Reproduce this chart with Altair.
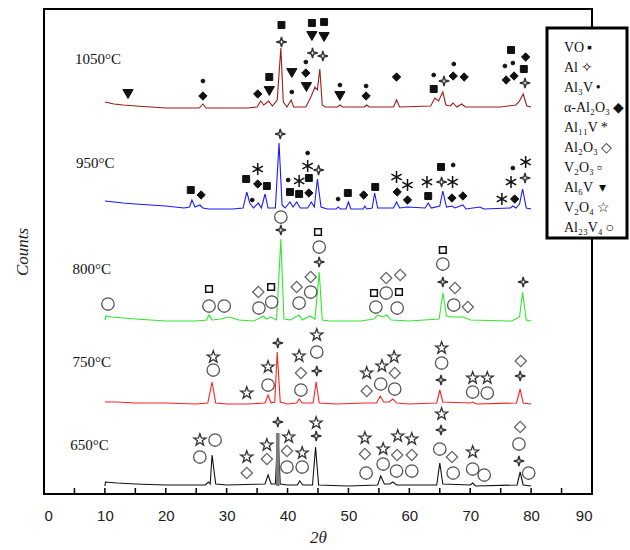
import altair as alt
import pandas as pd

# ---- diffraction traces: (2θ, counts) per annealing temperature ----
trace_1050 = [(10.0, 392), (11.5, 390), (13, 389), (15, 388), (17.5, 387), (20, 386), (23, 386),
              (25.5, 386), (26.1, 390), (26.6, 386), (30, 386), (33.5, 386), (35.0, 387), (35.6, 393),
              (36.1, 389), (36.9, 393), (37.5, 388), (38.3, 394), (38.9, 446), (39.3, 392), (39.9, 387),
              (40.6, 394), (41.0, 387), (43.0, 387), (43.9, 398), (44.5, 407), (44.9, 404), (45.3, 425),
              (45.7, 389), (46.2, 387), (48.2, 387), (48.6, 389), (49.0, 387), (52.6, 387), (53.0, 389),
              (53.4, 387), (57.4, 387), (57.9, 394), (58.4, 387), (63.5, 388), (64.2, 396), (64.8, 393),
              (65.5, 402), (66.0, 389), (66.7, 388), (67.2, 391), (67.8, 387), (68.6, 390), (69.2, 387),
              (75, 387), (77.5, 389), (78.0, 392), (78.7, 400), (79.3, 388), (80.0, 387)]
trace_950 = [(10.0, 293), (11.5, 292), (13, 291), (15, 290), (17.5, 289), (20, 288), (23, 286),
             (23.9, 287), (24.3, 294), (24.8, 287), (25.6, 289), (26.1, 286), (27, 285), (31, 285),
             (32.7, 286), (33.3, 302), (33.8, 291), (34.4, 286), (35.2, 291), (35.7, 286), (36.3, 300),
             (36.8, 286), (38.0, 286), (38.6, 351), (39.1, 289), (39.6, 286), (40.4, 292), (40.9, 287),
             (41.5, 292), (42.1, 286), (43.3, 286), (43.9, 292), (44.4, 287), (44.9, 315), (45.5, 287),
             (46.5, 285), (48.0, 285), (48.3, 287), (48.7, 285), (49.6, 285), (50.0, 292), (50.4, 285),
             (52.4, 285), (52.7, 288), (53.0, 285), (53.9, 286), (54.3, 301), (54.8, 286), (57.4, 286),
             (57.9, 292), (58.4, 286), (59.6, 287), (62.6, 286), (63.1, 291), (63.6, 286), (65.0, 288),
             (65.5, 303), (66.1, 287), (67.0, 288), (67.5, 286), (68.8, 289), (69.3, 285), (71.6, 287),
             (72.2, 285), (76.6, 286), (77.0, 288), (77.5, 286), (78.1, 290), (78.6, 305), (79.2, 286),
             (80.0, 285)]
trace_800 = [(10.0, 174), (10.2, 178), (11, 177), (13, 176), (15, 175), (17.5, 174), (20, 173),
             (25, 173), (26.7, 174), (27.1, 179), (27.6, 174), (29, 175), (30.5, 177), (32, 174),
             (34.4, 173), (35.5, 176), (36.0, 178), (36.5, 175), (37.2, 177), (38.2, 174), (38.9, 255),
             (39.4, 175), (40.5, 174), (41.9, 179), (42.4, 174), (43.7, 178), (44.5, 175), (45.2, 222),
             (45.7, 174), (47, 173), (52, 173), (54.2, 175), (54.8, 179), (55.6, 177), (56.3, 179),
             (57, 174), (60, 173), (64.9, 175), (65.5, 201), (66.1, 178), (67, 177), (68.8, 177),
             (70, 174), (76.8, 173), (78.1, 177), (78.6, 202), (79.2, 174), (80.0, 173)]
trace_750 = [(10.0, 92), (12, 92), (15, 91), (20, 91), (25, 90), (26.9, 91), (27.6, 112), (28.2, 91),
             (30, 90), (33.5, 90), (36.3, 91), (36.8, 99), (37.3, 91), (37.9, 92), (38.3, 142),
             (38.8, 92), (40, 90), (41.5, 91), (41.9, 95), (42.4, 91), (44.2, 91), (44.7, 112),
             (45.2, 91), (48, 90), (52.7, 91), (54.6, 91), (55.2, 98), (55.8, 92), (56.7, 92),
             (57.3, 95), (57.9, 91), (60, 90), (64.5, 91), (65.0, 104), (65.5, 92), (70.0, 91),
             (70.4, 92), (71, 90), (77.6, 91), (78.2, 105), (78.7, 91), (80.0, 90)]
trace_650 = [(10.0, 8), (10.1, 12), (12, 11), (15, 10), (20, 9), (26.5, 9), (27.0, 12), (27.3, 10),
             (27.6, 39), (28.2, 10), (30, 9), (36.3, 10), (36.8, 19), (37.3, 10), (38.0, 10),
             (38.4, 61), (38.8, 10), (40, 9), (41.6, 9), (42.0, 13), (42.5, 9), (44.1, 9), (44.6, 47),
             (45.1, 9), (50, 8), (54.8, 9), (55.3, 18), (55.9, 10), (56.8, 10), (57.3, 12), (57.9, 9),
             (64.5, 9), (65.0, 31), (65.5, 10), (70.0, 9), (70.4, 11), (70.9, 8), (77.7, 9),
             (78.2, 22), (78.7, 9), (80, 8)]

series_names = ["1050°C", "950°C", "800°C", "750°C", "650°C"]
series_traces = [trace_1050, trace_950, trace_800, trace_750, trace_650]
series_colors = ["#9a1c1c", "#1a1af5", "#2fe82f", "#ff2020", "#111111"]

# where each temperature label sits (2θ, counts)
label_theta = [5.1, 5.25, 4.7, 4.7, 4.3]
label_counts = [435, 331, 225, 132, 49]

# ---- phase identification markers: (2θ, counts) ----
phases = ["VO", "Al", "Al₃V", "α-Al₂O₃", "Al₁₁V", "Al₂O₃", "V₂O₃", "Al₆V", "V₂O₄", "Al₂₃V₄"]
phase_glyphs = ["▪", "✧", "•", "◆", "*", "◇", "▫", " ▾", "☆", "○"]

marks_VO = [(37.0, 417), (39.0, 469), (44.0, 471), (46.0, 472), (64.0, 405), (76.7, 444), (78.8, 425),
            (24.1, 304), (33.2, 315), (36.6, 308), (40.4, 302), (41.9, 300), (43.5, 316), (49.9, 301),
            (54.4, 307), (63.1, 298), (65.2, 327)]
marks_Al = [(39.0, 452), (44.1, 441), (45.8, 438), (65.7, 413), (79.0, 411),
            (38.8, 360), (45.1, 324), (65.3, 312), (79.0, 316),
            (38.9, 264), (45.2, 232), (65.5, 212), (78.7, 212),
            (38.4, 151), (44.8, 123), (65.2, 114), (78.2, 118),
            (38.4, 72), (44.7, 58), (65.2, 64), (78.0, 33)]
marks_Al3V = [(26.1, 413), (40.7, 402), (43.0, 432), (48.6, 409), (52.9, 408), (64.0, 419), (67.3, 430),
              (75.7, 428), (77.0, 431),
              (34.2, 294), (40.1, 314), (43.3, 341), (48.3, 295), (67.2, 329), (77.0, 326)]
marks_aAl2O3 = [(26.1, 398), (35.1, 400), (43.0, 421), (52.9, 398), (57.9, 417), (67.2, 418), (69.0, 417),
                (75.9, 414), (77.2, 418), (79.1, 437),
                (25.8, 299), (35.1, 310), (43.5, 301), (52.5, 299), (58.0, 302), (59.7, 294), (67.0, 296),
                (68.8, 298), (77.3, 295)]
marks_Al11V = [(35.1, 325), (41.9, 313), (43.3, 328), (57.9, 317), (59.7, 309), (62.9, 312), (67.1, 312),
               (75.2, 295), (76.7, 312), (79.1, 332)]
marks_Al2O3 = [(35.2, 202), (41.5, 207), (43.8, 217), (56.2, 216), (58.5, 219), (67.5, 206), (69.6, 187),
               (42.2, 121), (53.0, 103), (57.6, 121), (78.3, 133),
               (33.3, 21), (36.6, 35), (39.9, 43), (52.7, 40), (58.0, 39), (60.4, 39), (67.0, 37), (78.2, 67)]
marks_V2O3 = [(27.1, 205), (37.3, 207), (45.0, 262), (54.2, 201), (58.3, 202), (65.5, 244)]
marks_Al6V = [(13.8, 400), (37.0, 403), (40.7, 421), (43.1, 407), (44.0, 458), (46.0, 457), (48.6, 398)]
marks_V2O4 = [(27.8, 137), (33.3, 101), (36.8, 127), (41.9, 138), (44.8, 159), (53.0, 121), (55.5, 128),
              (57.5, 137), (65.3, 146), (70.4, 116), (72.8, 116),
              (25.6, 54), (33.3, 37), (36.6, 49), (40.2, 57), (42.4, 41), (44.7, 71), (52.7, 56), (55.7, 45),
              (58.1, 58), (60.4, 55), (65.3, 80), (70.4, 42)]
marks_Al23V4 = [(10.5, 190), (27.1, 188), (29.6, 188), (35.3, 186), (37.4, 192), (38.9, 277), (41.9, 191),
                (43.8, 202), (45.2, 247), (54.5, 187), (56.2, 201), (58.0, 186), (65.5, 230), (67.3, 189),
                (27.8, 124), (36.8, 109), (42.2, 104), (44.8, 142), (55.3, 110), (57.6, 105), (65.3, 131),
                (70.4, 102), (72.8, 101),
                (25.6, 37), (28.1, 54), (39.9, 27), (42.4, 27), (52.9, 21), (55.7, 30), (57.9, 23), (60.4, 23),
                (65.0, 45), (67.2, 21), (70.4, 25), (72.3, 19), (78.0, 50), (79.6, 21)]
phase_marks = [marks_VO, marks_Al, marks_Al3V, marks_aAl2O3, marks_Al11V, marks_Al2O3,
               marks_V2O3, marks_Al6V, marks_V2O4, marks_Al23V4]

x_ticks = list(range(0, 91, 10))
minor_ticks = list(range(0, 91, 5))

# ---- symbol styling per phase ----
STAR4 = "M0,-1L0.2,-0.2L1,0L0.2,0.2L0,1L-0.2,0.2L-1,0L-0.2,-0.2Z"
ASTERISK = "M0,-1L0,1M-0.87,-0.5L0.87,0.5M-0.87,0.5L0.87,-0.5"
STAR5 = ("M0,-1L0.235,-0.324L0.951,-0.309L0.380,0.124L0.588,0.809L0,0.4L-0.588,0.809"
         "L-0.380,0.124L-0.951,-0.309L-0.235,-0.324Z")
phase_style = {
    "VO":      dict(shape="square", size=48, fill="#111111", stroke="#111111", sw=1.0),
    "Al":      dict(shape=STAR4, size=105, fill="white", stroke="#333333", sw=1.4),
    "Al₃V":    dict(shape="circle", size=14, fill="#111111", stroke="#111111", sw=1.0),
    "α-Al₂O₃": dict(shape="diamond", size=70, fill="#111111", stroke="#111111", sw=1.0),
    "Al₁₁V":   dict(shape=ASTERISK, size=140, fill="transparent", stroke="#111111", sw=1.5),
    "Al₂O₃":   dict(shape="diamond", size=125, fill="transparent", stroke="#666666", sw=1.3),
    "V₂O₃":    dict(shape="square", size=45, fill="transparent", stroke="#111111", sw=1.5),
    "Al₆V":    dict(shape="triangle-down", size=105, fill="#111111", stroke="#111111", sw=1.0),
    "V₂O₄":    dict(shape=STAR5, size=160, fill="transparent", stroke="#333333", sw=1.3),
    "Al₂₃V₄":  dict(shape="circle", size=155, fill="transparent", stroke="#555555", sw=1.3),
}

# ---- tables ----
trace_rows = []
for name, pts in zip(series_names, series_traces):
    for i, (t, c) in enumerate(pts):
        trace_rows.append({"series": name, "theta": t, "counts": c, "idx": i})
trace_df = pd.DataFrame(trace_rows)

marker_rows = []
for p, pts in zip(phases, phase_marks):
    for t, c in pts:
        marker_rows.append({"phase": p, "theta": t, "counts": c})
marker_df = pd.DataFrame(marker_rows)

label_df = pd.DataFrame({"text": series_names, "theta": label_theta, "counts": label_counts})
tick_df = pd.DataFrame({"theta": minor_ticks})

# strongest 650 °C reflection, drawn as a shaded bar
peak_650 = max(trace_650, key=lambda p: p[1])
bar_df = pd.DataFrame({"theta": [peak_650[0]], "lo": [min(c for _, c in trace_650)], "hi": [peak_650[1]]})

# ---- scales & axes ----
x_scale = alt.Scale(domain=[0, 90], nice=False, zero=False)
y_scale = alt.Scale(domain=[0, 485], nice=False, zero=False)
x_axis = alt.Axis(values=x_ticks, ticks=False, domain=False, grid=False, labelFont="Liberation Sans",
                  labelFontSize=15, labelColor="#222222", labelPadding=14, titleFont="Liberation Serif",
                  titleFontStyle="italic", titleFontWeight="normal", titleFontSize=17, titlePadding=6,
                  titleColor="#222222")
y_axis = alt.Axis(labels=False, ticks=False, domain=False, grid=False, titleFont="Liberation Serif",
                  titleFontStyle="italic", titleFontWeight="normal", titleFontSize=17, titlePadding=13,
                  titleColor="#222222")
X = alt.X("theta:Q", scale=x_scale, axis=x_axis, title="2θ")
Y = alt.Y("counts:Q", scale=y_scale, axis=y_axis, title="Counts")

# legend entries: phase name followed by its marker glyph
glyph_expr = ("datum.label + '\u2009' + " + str(phase_glyphs).replace("'", '"') +
              "[indexof(" + str(phases).replace("'", '"') + ", datum.label)]")
legend = alt.Legend(title=" ", titleFontSize=10, titlePadding=0, orient="none", legendX=503, legendY=19,
                    labelFont="Liberation Serif", labelFontSize=14, labelColor="#111111",
                    labelExpr=glyph_expr, symbolOpacity=0, symbolSize=1, symbolStrokeWidth=0,
                    labelOffset=0, rowPadding=6, padding=3, strokeColor="black", fillColor="white")
shape_scale = alt.Scale(domain=phases, range=[phase_style[p]["shape"] for p in phases])

lines = alt.Chart(trace_df).mark_line(strokeWidth=1.1).encode(
    x=X, y=Y,
    color=alt.Color("series:N", scale=alt.Scale(domain=series_names, range=series_colors), legend=None),
    order="idx:Q")

bar = alt.Chart(bar_df).mark_rule(color="#7a7a7a", strokeWidth=3.5).encode(
    x=X, y=alt.Y("lo:Q", scale=y_scale, axis=y_axis, title="Counts"), y2="hi:Q")

marker_layers = []
for p in phases:
    st = phase_style[p]
    marker_layers.append(
        alt.Chart(marker_df).transform_filter(alt.datum.phase == p).mark_point(
            size=st["size"], fill=st["fill"], stroke=st["stroke"], strokeWidth=st["sw"], opacity=1
        ).encode(x=X, y=Y, shape=alt.Shape("phase:N", scale=shape_scale, legend=legend))
    )

ticks = alt.Chart(tick_df).mark_rule(color="black", strokeWidth=1.5).encode(
    x=X, y=alt.datum(0), y2=alt.datum(6))

labels = alt.Chart(label_df).mark_text(align="left", baseline="middle", font="Liberation Serif",
                                       fontSize=15, color="#111111").encode(x=X, y=Y, text="text:N")

chart = alt.layer(lines, bar, *marker_layers, ticks, labels).properties(
    width=548, height=485,
    autosize=alt.AutoSizeParams(type="none"),
    padding={"left": 44, "top": 9, "right": 38, "bottom": 56},
).configure_view(stroke="black", strokeWidth=2).configure_legend(strokeWidth=3)

chart.save("out.html", embed_options={"renderer": "svg", "actions": False})
